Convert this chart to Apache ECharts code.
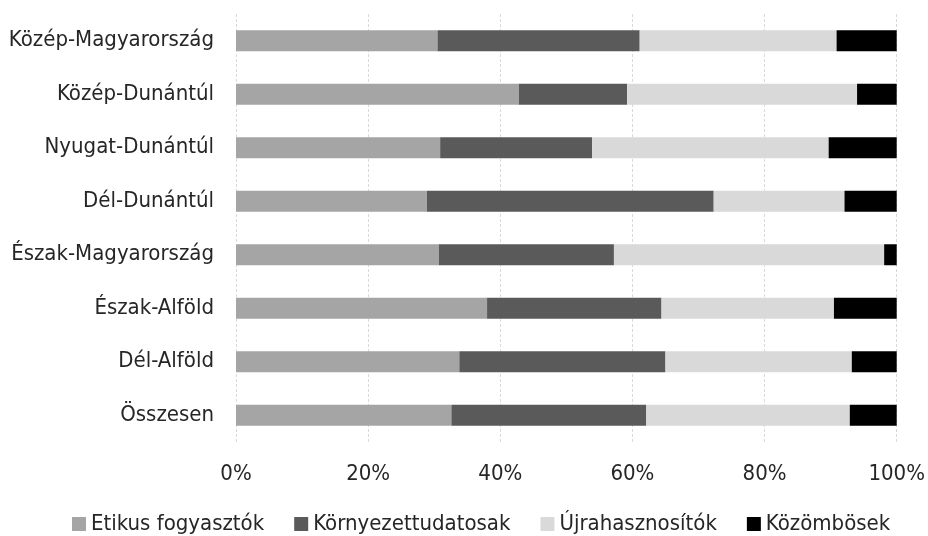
<!DOCTYPE html>
<html>
<head>
<meta charset="utf-8">
<script src="https://cdn.jsdelivr.net/npm/echarts@6/dist/echarts.min.js"></script>
<style>
html, body { margin: 0; padding: 0; background: #fff; }
#main { width: 928px; height: 536px; }
</style>
</head>
<body>
<div id="main"></div>
<script>
// regions, top to bottom
var regions = ['Közép-Magyarország', 'Közép-Dunántúl', 'Nyugat-Dunántúl', 'Dél-Dunántúl',
  'Észak-Magyarország', 'Észak-Alföld', 'Dél-Alföld', 'Összesen'];

// shares in percent
var etikus = [30.5, 42.8, 30.9, 28.9, 30.7, 38.0, 33.8, 32.6];
var kornyezet = [30.6, 16.4, 23.0, 43.4, 26.5, 26.4, 31.2, 29.5];
var ujra = [29.8, 34.8, 35.8, 19.8, 40.9, 26.1, 28.2, 30.8];
var kozombos = [9.1, 6.0, 10.3, 7.9, 1.9, 9.5, 6.8, 7.1];

var seriesNames = ['Etikus fogyasztók', 'Környezettudatosak', 'Újrahasznosítók', 'Közömbösek'];
var seriesColors = ['#a5a5a5', '#5a5a5a', '#d9d9d9', '#000000'];
var seriesData = [etikus, kornyezet, ujra, kozombos];

var font = '"DejaVu Sans Condensed", sans-serif';

var chart = echarts.init(document.getElementById('main'));

var series = [];
for (var i = 0; i < seriesNames.length; i++) {
  series.push({
    name: seriesNames[i],
    type: 'bar',
    stack: 'total',
    barWidth: 21,
    itemStyle: { color: seriesColors[i] },
    data: seriesData[i]
  });
}

chart.setOption({
  animation: false,
  textStyle: { fontFamily: font },
  grid: { left: 236, right: 30, top: 14, bottom: 94 },
  legend: {
    bottom: -4,
    left: 67,
    itemWidth: 14,
    itemHeight: 14,
    itemGap: 30,
    icon: 'rect',
    textStyle: { fontSize: 22, color: '#262626', fontFamily: font },
    data: seriesNames
  },
  xAxis: {
    type: 'value',
    min: 0,
    max: 100,
    interval: 20,
    axisLine: { show: false },
    axisTick: { show: false },
    axisLabel: {
      formatter: '{value}%',
      fontSize: 22,
      color: '#262626',
      margin: 21,
      fontFamily: font
    },
    splitLine: { lineStyle: { color: '#d9d9d9', type: [3, 2], width: 1 } }
  },
  yAxis: {
    type: 'category',
    inverse: true,
    data: regions,
    axisLine: { show: false },
    axisTick: { show: false },
    axisLabel: { fontSize: 22, color: '#262626', margin: 22, fontFamily: font }
  },
  series: series
});
</script>
</body>
</html>
